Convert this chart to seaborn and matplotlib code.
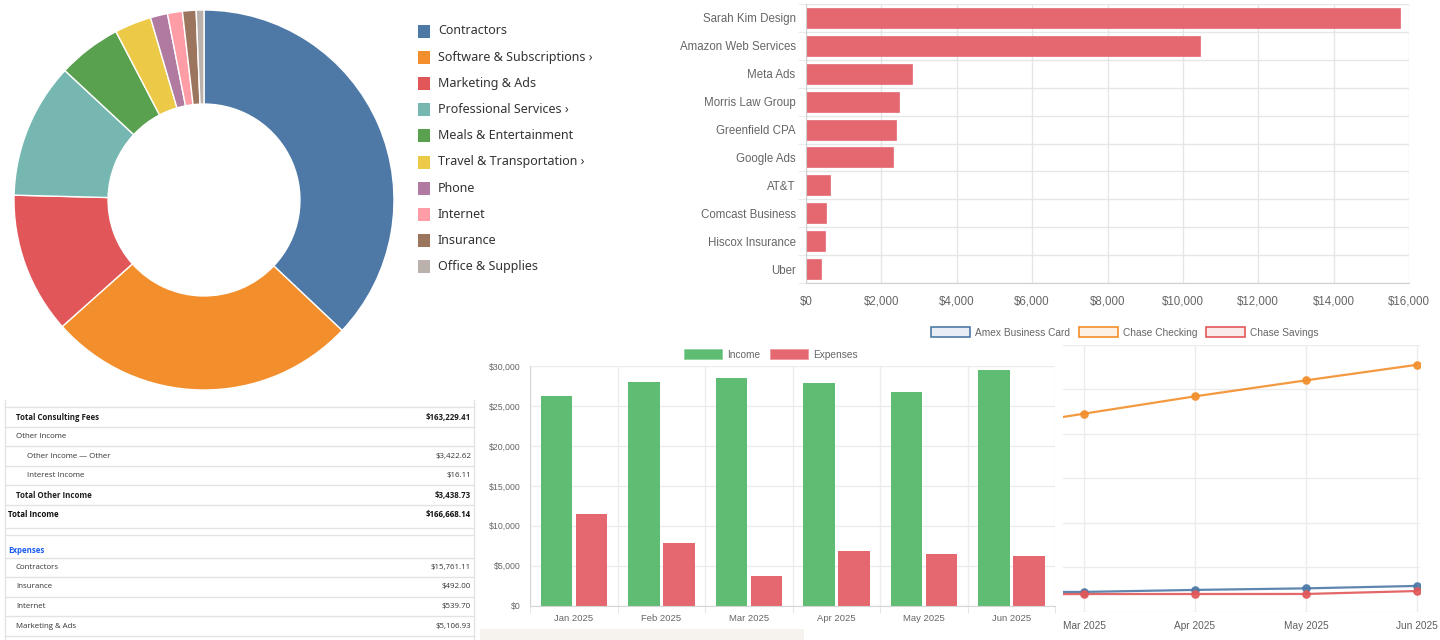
import numpy as np
import pandas as pd
import matplotlib
matplotlib.use("Agg")
import matplotlib.pyplot as plt
from matplotlib.patches import Rectangle, Patch
from matplotlib.ticker import FuncFormatter, FixedLocator
import seaborn as sns

# ---------------- data ----------------
categories = ["Contractors", "Software & Subscriptions \u203a", "Marketing & Ads",
              "Professional Services \u203a", "Meals & Entertainment",
              "Travel & Transportation \u203a", "Phone", "Internet", "Insurance",
              "Office & Supplies"]
category_amounts = [15761.11, 11210, 5106.93, 4900, 2300, 1330, 620, 539.70, 492.00, 280]
category_colors = ["#4e79a7", "#f28e2b", "#e15759", "#76b7b2", "#59a14f",
                   "#edc948", "#b07aa1", "#ff9da7", "#9c755f", "#bab0ac"]

vendors = ["Sarah Kim Design", "Amazon Web Services", "Meta Ads", "Morris Law Group",
           "Greenfield CPA", "Google Ads", "AT&T", "Comcast Business",
           "Hiscox Insurance", "Uber"]
vendor_amounts = [15761.11, 10460, 2810, 2480, 2390, 2297, 640, 539.70, 492, 400]

months = ["Jan 2025", "Feb 2025", "Mar 2025", "Apr 2025", "May 2025", "Jun 2025"]
income = [26200, 27950, 28440, 27900, 26700, 29480]
expenses = [11420, 7880, 3710, 6830, 6420, 6170]

bal_months = ["Feb 2025", "Mar 2025", "Apr 2025", "May 2025", "Jun 2025"]
accounts = ["Amex Business Card", "Chase Checking", "Chase Savings"]
amex = [4400, 4450, 4900, 5250, 5800]
checking = [40600, 44550, 48450, 52050, 55550]
savings = [3850, 3980, 3980, 3990, 4650]
account_colors = ["#4e79a7", "#f28e2b", "#e15759"]

table_labels = ["Total Consulting Fees", "Other Income", "Other Income \u2014 Other",
                "Interest Income", "Total Other Income", "Total Income", "",
                "Expenses", "Contractors", "Insurance", "Internet", "Marketing & Ads"]
table_values = ["$163,229.41", "", "$3,422.62", "$16.11", "$3,438.73", "$166,668.14", "",
                "", "$15,761.11", "$492.00", "$539.70", "$5,106.93"]
# row kind drives style only
table_kinds = ["total", "group", "item", "item", "total", "grand", "spacer",
               "section", "line", "line", "line", "line"]

# ---------------- figure ----------------
sns.set_style("white")
plt.rcParams["font.family"] = ["Liberation Sans", "DejaVu Sans"]

W, H = 1440, 640
fig = plt.figure(figsize=(W / 100, H / 100), dpi=100)


def px_axes(x0, y0, x1, y1):
    return fig.add_axes([x0 / W, 1 - y1 / H, (x1 - x0) / W, (y1 - y0) / H])


money = FuncFormatter(lambda v, p: f"${v:,.0f}")
grid_c = "#e6e6e6"
tick_c = "#666666"

# overlay for legends / table in pixel coordinates
ov = fig.add_axes([0, 0, 1, 1], zorder=-5)
ov.set_xlim(0, W)
ov.set_ylim(H, 0)
ov.axis("off")

# ---- donut ----
axp = px_axes(14, 10, 394, 390)
axp.pie(category_amounts, colors=category_colors, startangle=90, counterclock=False,
        wedgeprops=dict(width=0.495, edgecolor="white", linewidth=1))
axp.set_xlim(-1, 1)
axp.set_ylim(-1, 1)

for i, (cat, col) in enumerate(zip(categories, category_colors)):
    y = 31 + i * 26.2
    ov.add_patch(Rectangle((418, y - 6.5), 12, 13, fc=col, ec="none"))
    ov.text(438, y, cat, va="center", ha="left", fontsize=9, color="#333333",
            family=["Noto Sans", "DejaVu Sans"])

# ---- top vendors horizontal bars ----
axb = px_axes(806, 4, 1409, 283)
sns.barplot(x=vendor_amounts, y=vendors, orient="h", color="#E5676F", saturation=1,
            width=0.72, edgecolor="#de5864", linewidth=0.4, ax=axb)
axb.set_xlim(0, 16000)
axb.set_ylim(len(vendors) - 0.5, -0.5)
axb.set_xticks(np.arange(0, 16001, 2000))
axb.xaxis.set_major_formatter(money)
axb.yaxis.set_minor_locator(FixedLocator(np.arange(-0.5, len(vendors), 1)))
axb.set_axisbelow(True)
axb.grid(axis="x", color=grid_c, lw=1)
axb.grid(axis="y", which="minor", color=grid_c, lw=1)
axb.tick_params(axis="x", length=6, color=grid_c, labelcolor=tick_c, labelsize=8.3, pad=3)
axb.tick_params(axis="y", which="major", length=0, labelcolor=tick_c, labelsize=8.3, pad=7.5)
axb.tick_params(axis="y", which="minor", length=6, color=grid_c, left=True)
for s in ["top", "right"]:
    axb.spines[s].set_visible(False)
for s in ["left", "bottom"]:
    axb.spines[s].set_color("#cfcfcf")
axb.set_xlabel("")
axb.set_ylabel("")

# ---- income vs expenses ----
df = pd.DataFrame({"month": months * 2,
                   "series": ["Income"] * len(months) + ["Expenses"] * len(months),
                   "amount": income + expenses})
axg = px_axes(530, 366, 1055, 605.7)
sns.barplot(data=df, x="month", y="amount", hue="series",
            palette={"Income": "#5EBD73", "Expenses": "#E5676F"}, saturation=1,
            width=0.8, gap=0.1, linewidth=0, legend=False, ax=axg)
axg.set_ylim(0, 30000)
axg.set_xlim(-0.5, len(months) - 0.5)
axg.set_yticks(np.arange(0, 30001, 5000))
axg.yaxis.set_major_formatter(money)
axg.xaxis.set_minor_locator(FixedLocator(np.arange(-0.5, len(months), 1)))
axg.set_axisbelow(True)
axg.grid(axis="y", color="#ececec", lw=1)
axg.grid(axis="x", which="minor", color="#ececec", lw=1)
axg.tick_params(axis="x", which="major", length=0, labelcolor=tick_c, labelsize=6.8, pad=6)
axg.tick_params(axis="x", which="minor", length=5, color="#e0e0e0", bottom=True)
axg.tick_params(axis="y", length=5, color="#e0e0e0", labelcolor=tick_c, labelsize=6.3, pad=2)
for s in ["top", "right"]:
    axg.spines[s].set_visible(False)
for s in ["left", "bottom"]:
    axg.spines[s].set_color("#d5d5d5")
axg.set_xlabel("")
axg.set_ylabel("")
axg.legend(handles=[Patch(fc="#5EBD73", ec="#8fd39f", lw=0.6),
                    Patch(fc="#E5676F", ec="#ee9aa2", lw=0.6)],
           labels=["Income", "Expenses"], loc="center", ncol=2, frameon=False,
           bbox_to_anchor=(771 / W, 1 - 354.5 / H), bbox_transform=fig.transFigure,
           fontsize=7.3, handlelength=3.8, handleheight=1.0, handletextpad=0.5,
           columnspacing=0.9, labelcolor=tick_c)

# ---- account balances ----
ldf = pd.DataFrame({"month": bal_months * 3,
                    "account": sum([[a] * len(bal_months) for a in accounts], []),
                    "balance": amex + checking + savings})
axl = px_axes(1063, 345, 1420, 611.7)
sns.lineplot(data=ldf, x="month", y="balance", hue="account", hue_order=accounts,
             palette=dict(zip(accounts, account_colors)), marker="o", markersize=5,
             linewidth=1.6, alpha=0.9, legend=False, ax=axl)
for line, col in zip(axl.lines, account_colors):
    line.set_markerfacecolor(matplotlib.colors.to_rgba(col, 0.45))
    line.set_markeredgecolor(col)
    line.set_markeredgewidth(1.2)
axl.set_xlim(1 - 21 / 111, len(bal_months) - 1 + 3 / 111)
axl.set_ylim(0, 60000)
axl.set_yticks(np.arange(0, 60001, 10000))
axl.set_yticklabels([])
axl.set_axisbelow(True)
axl.grid(True, color="#ececec", lw=1)
axl.tick_params(axis="y", length=0)
axl.tick_params(axis="x", length=4, color="#ececec", labelcolor="#5f5f5f", labelsize=7.3, pad=3)
for s in axl.spines.values():
    s.set_visible(False)
axl.set_xlabel("")
axl.set_ylabel("")
axl.legend(handles=[Patch(fc=matplotlib.colors.to_rgba(c, 0.12), ec=c, lw=1.2)
                    for c in account_colors],
           labels=accounts, loc="center", ncol=3, frameon=False,
           bbox_to_anchor=(1125 / W, 1 - 332.5 / H), bbox_transform=fig.transFigure,
           fontsize=7.3, handlelength=3.8, handleheight=1.0, handletextpad=0.5,
           columnspacing=0.9, labelcolor=tick_c)

# ---- P&L table ----
row_h = {"total": 19.5, "group": 19.5, "item": 19.5, "grand": 22.7, "spacer": 7.3,
         "section": 22.7, "line": 19.6}
line_c = "#e3e3e3"
tfont = ["Open Sans", "DejaVu Sans"]
y = 407.3
ov.plot([5, 474], [y, y], color=line_c, lw=1)
for lab, val, kind in zip(table_labels, table_values, table_kinds):
    h = row_h[kind]
    cy = y + h / 2
    indent, weight, color = 16, "normal", "#333333"
    if kind == "total":
        weight, color = "bold", "#1e1e1e"
    elif kind == "item":
        indent = 27
    elif kind == "grand":
        indent, weight, color, cy = 8, "bold", "#111111", y + 9.5
    elif kind == "section":
        indent, weight, color, cy = 8, "bold", "#1a5cf0", y + 16
    if lab:
        ov.text(indent, cy, lab, fontsize=5.7, fontweight=weight, color=color,
                va="center", ha="left", family=tfont)
    if val:
        ov.text(471, cy, val, fontsize=5.7, fontweight=weight, color=color,
                va="center", ha="right", family=tfont)
    y += h
    ov.plot([5, 474], [y, y], color=line_c, lw=1)
ov.plot([5, 5], [400, 640], color=line_c, lw=1)
ov.plot([474, 474], [400, 640], color=line_c, lw=1)

# beige strip under the bar panel
ov.add_patch(Rectangle((480, 628.5), 324, 12, fc="#f6f3ee", ec="none"))

fig.savefig("out.png", dpi=100)
